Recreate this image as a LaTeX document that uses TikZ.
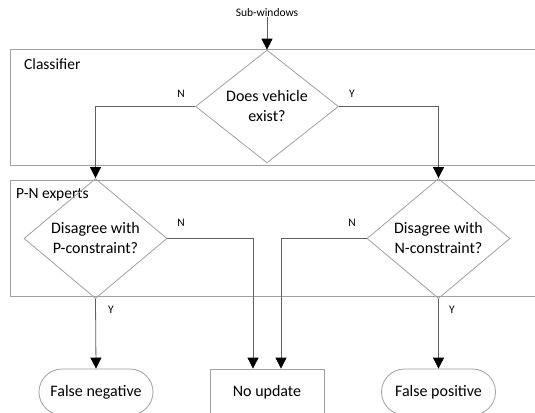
\documentclass[tikz,border=0pt]{standalone}
\usepackage{fontspec}
\setmainfont{Carlito}
\usetikzlibrary{arrows.meta,shapes.geometric,calc}
\definecolor{boxgray}{HTML}{A0A0A0}
\definecolor{linegray}{HTML}{606060}
\tikzset{
  region/.style={draw=boxgray, line width=0.8pt},
  decision/.style={draw=boxgray, line width=0.8pt, shape=diamond, inner sep=0pt,
    minimum width=143pt, minimum height=87pt, align=center, font=\fontsize{16}{20}\selectfont},
  terminal/.style={draw=boxgray, line width=0.8pt, rounded corners=23pt,
    minimum width=114pt, minimum height=46pt, font=\fontsize{16}{20}\selectfont},
  process/.style={draw=boxgray, line width=0.8pt,
    minimum width=114pt, minimum height=46pt, font=\fontsize{16}{20}\selectfont},
  title/.style={font=\fontsize{15.5}{19.5}\selectfont, inner sep=0pt, anchor=west},
  lbl/.style={font=\fontsize{11.5}{13}\selectfont, inner sep=0pt},
  flow/.style={draw=linegray, line width=0.8pt, -{Triangle[width=11pt,length=11pt,color=black,fill=black]}},
}
\begin{document}
\begin{tikzpicture}[x=1pt,y=-1pt]
\useasboundingbox (0,0) rectangle (535,412);
\clip (0,0) rectangle (535,412);
% regions
\draw[region] (10,49) rectangle (560,165);
\draw[region] (10,180) rectangle (560,296);
\node[title] (cls) at (24,64) {Classifier};
\node[title] (pne) at (16,195) {P-N experts};
% nodes
\node[lbl] (sub) at (267,13) {Sub-windows};
\node[decision] (d1) at (267,106.5) {Does vehicle\\exist?};
\node[decision] (d2) at (95.5,238.5) {Disagree with\\P-constraint?};
\node[decision] (d3) at (438.5,238.5) {Disagree with\\N-constraint?};
\node[terminal] (fn) at (96,392) {False negative};
\node[process] (nu) at (267,392) {No update};
\node[terminal] (fp) at (438.5,392) {False positive};
% labels
\node[lbl] (n1) at (181,94) {N};
\node[lbl] (y1) at (352,94) {Y};
\node[lbl] (n2) at (181,223) {N};
\node[lbl] (n3) at (352,223) {N};
\node[lbl] (y2) at (111,310) {Y};
\node[lbl] (y3) at (452,310) {Y};
% connectors
\draw[flow] (sub.south) -- (d1.north);
\draw[flow] (d1.west) -| (d2.north);
\draw[flow] (d1.east) -| (d3.north);
\draw[flow] (d2.south) -- (fn.north);
\draw[flow] (d3.south) -- (fp.north);
\coordinate (nul) at ($(nu.north)+(-14,0)$);
\coordinate (nur) at ($(nu.north)+(14,0)$);
\draw[flow] (d2.east) -| (nul);
\draw[flow] (d3.west) -| (nur);
\end{tikzpicture}
\end{document}
